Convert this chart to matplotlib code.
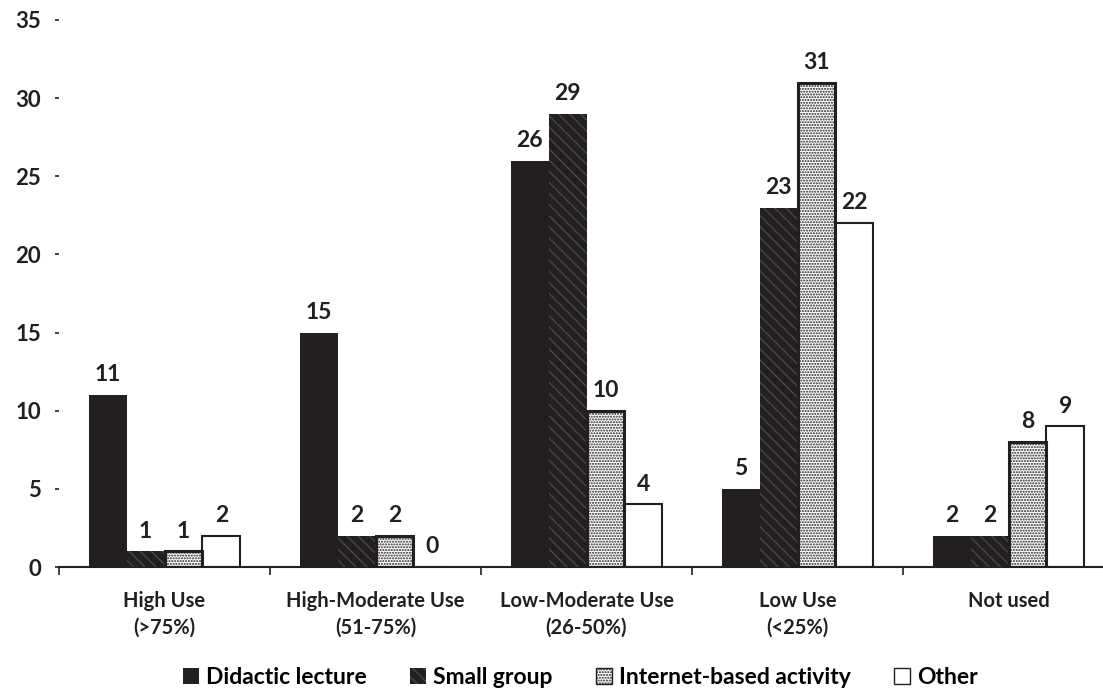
import numpy as np
import matplotlib.pyplot as plt
from matplotlib.patches import Patch

plt.rcParams['font.family'] = ['Lato', 'DejaVu Sans']
plt.rcParams['hatch.linewidth'] = 1.0

categories = ['High Use\n(>75%)', 'High-Moderate Use\n(51-75%)', 'Low-Moderate Use\n(26-50%)',
              'Low Use\n(<25%)', 'Not used']
series = ['Didactic lecture', 'Small group', 'Internet-based activity', 'Other']
didactic = [11, 15, 26, 5, 2]
small_group = [1, 2, 29, 23, 2]
internet = [1, 2, 10, 31, 8]
other = [2, 0, 4, 22, 9]
values = [didactic, small_group, internet, other]

ink = '#231f20'
# face, hatch colour, hatch pattern, edge width
styles = [
    (ink, None, None, 0.0),
    (ink, '#474747', '\\\\\\', 0.0),
    ('white', ink, '......', 2.2),
    ('white', None, None, 1.5),
]

fig = plt.figure(figsize=(11.03, 6.96), dpi=100)
ax = fig.add_axes([59 / 1103, 1 - 567 / 696, 1055 / 1103, 547 / 696])

x = np.arange(len(categories))
w = 0.18
handles = []
for i, (vals, (face, hcol, hatch, lw)) in enumerate(zip(values, styles)):
    pos = x + (i - 1.5) * w
    ax.bar(pos, vals, w, color=face, edgecolor=ink, linewidth=0, zorder=2)
    if hatch:
        ax.bar(pos, vals, w, fill=False, edgecolor=hcol, hatch=hatch, linewidth=0, zorder=3)
    if lw:
        ax.bar(pos, vals, w, fill=False, edgecolor=ink, linewidth=lw, zorder=4)
    handles.append(Patch(facecolor=face, edgecolor=hcol if hatch else ink, hatch=hatch,
                         linewidth=1.0 if face == 'white' else 0))
    for xp, v in zip(pos, vals):
        ax.annotate(str(v), (xp, v), xytext=(0, 7), textcoords='offset points',
                    ha='center', va='bottom', fontsize=16.5, fontweight='bold', color=ink)

ax.set_xlim(-0.5, 4.5)
ax.set_ylim(0, 35)
ax.set_yticks(range(0, 36, 5))
ax.set_xticks(x)
ax.set_xticklabels(categories, fontsize=14.5, fontweight='bold', linespacing=1.45)
ax.set_xticks(np.arange(-0.5, 5, 1), minor=True)
ax.tick_params(axis='x', which='major', length=0, pad=17, colors=ink)
ax.tick_params(axis='x', which='minor', length=6, width=1.2, direction='out', color=ink)
ax.tick_params(axis='y', length=3, width=1.2, pad=10, labelsize=16, colors=ink)
for lab in ax.get_yticklabels():
    lab.set_fontweight('bold')

for s in ['top', 'right', 'left']:
    ax.spines[s].set_visible(False)
ax.spines['bottom'].set_linewidth(1.5)
ax.spines['bottom'].set_color(ink)

fig.legend(handles, series, loc='center', bbox_to_anchor=(0.526, 0.026), ncol=4, frameon=False,
           prop={'size': 16.5, 'weight': 'bold'}, handlelength=0.7, handleheight=0.7,
           handletextpad=0.3, columnspacing=1.9)

fig.savefig('out.png', dpi=100)
